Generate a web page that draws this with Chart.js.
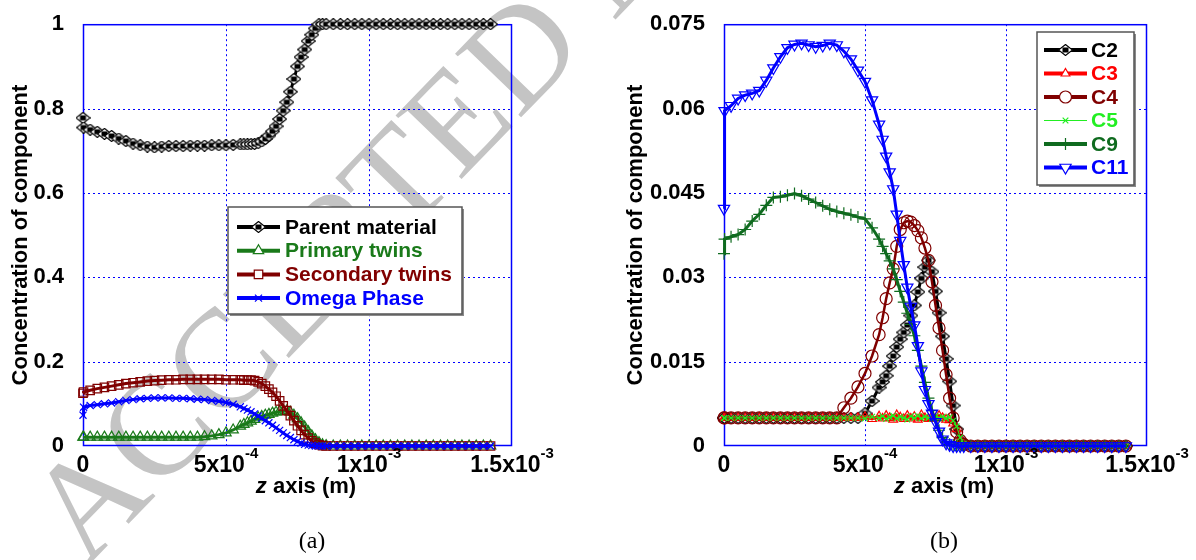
<!DOCTYPE html>
<html>
<head>
<meta charset="utf-8">
<script src="https://cdn.jsdelivr.net/npm/chart.js@4.4.1/dist/chart.umd.min.js"></script>
<style>
  body { margin: 0; background: #fff; }
  #wrap { position: relative; width: 1196px; height: 560px; overflow: hidden; }
  #wrap canvas { position: absolute; top: 0; }
</style>
</head>
<body>
<div id="wrap">
  <canvas id="mark" width="1196" height="560" style="left:0"></canvas>
  <canvas id="chartA" width="598" height="560" style="left:0"></canvas>
  <canvas id="chartB" width="598" height="560" style="left:598px"></canvas>
</div>
<script>
// z positions of the simulation mesh (m), shared by both panels
const zMesh = [0, 2e-6, 2.5e-5, 5e-5, 7.5e-5, 1e-4, 1.25e-4, 1.5e-4, 1.75e-4, 2e-4, 2.25e-4,
  2.5e-4, 2.75e-4, 3e-4, 3.25e-4, 3.5e-4, 3.75e-4, 4e-4, 4.25e-4, 4.5e-4, 4.75e-4,
  5e-4, 5.25e-4, 5.5e-4, 5.625e-4, 5.75e-4, 5.875e-4, 6e-4, 6.125e-4, 6.25e-4, 6.375e-4,
  6.5e-4, 6.625e-4, 6.75e-4, 6.875e-4, 7e-4, 7.125e-4, 7.25e-4, 7.375e-4, 7.5e-4, 7.625e-4,
  7.75e-4, 7.875e-4, 8e-4, 8.125e-4, 8.25e-4, 8.375e-4, 8.5e-4, 8.75e-4, 9e-4, 9.25e-4,
  9.5e-4, 9.75e-4, 1e-3, 1.025e-3, 1.05e-3, 1.075e-3, 1.1e-3, 1.125e-3, 1.15e-3, 1.175e-3,
  1.2e-3, 1.225e-3, 1.25e-3, 1.275e-3, 1.3e-3, 1.325e-3, 1.35e-3, 1.375e-3, 1.4e-3, 1.425e-3];

// panel (a)
const parentMaterial = [0.778, 0.755, 0.750, 0.745, 0.740, 0.735, 0.729, 0.723, 0.717, 0.713, 0.710,
  0.708, 0.710, 0.711, 0.711, 0.711, 0.712, 0.712, 0.712, 0.713, 0.713,
  0.713, 0.714, 0.715, 0.715, 0.715, 0.716, 0.716, 0.718, 0.722, 0.728,
  0.736, 0.746, 0.758, 0.775, 0.795, 0.815, 0.840, 0.870, 0.900, 0.922,
  0.940, 0.960, 0.975, 0.990, 1, 1, 1, 1, 1, 1,
  1, 1, 1, 1, 1, 1, 1, 1, 1, 1,
  1, 1, 1, 1, 1, 1, 1, 1, 1, 1];
const primaryTwins = [0.021, 0.021, 0.021, 0.021, 0.021, 0.021, 0.021, 0.021, 0.021, 0.021, 0.021,
  0.021, 0.021, 0.021, 0.021, 0.021, 0.021, 0.021, 0.022, 0.024, 0.027,
  0.031, 0.038, 0.047, 0.051, 0.055, 0.059, 0.063, 0.067, 0.070, 0.073,
  0.075, 0.078, 0.080, 0.082, 0.083, 0.083, 0.080, 0.073, 0.065, 0.055,
  0.045, 0.034, 0.024, 0.015, 0.008, 0.003, 0.001, 0, 0, 0,
  0, 0, 0, 0, 0, 0, 0, 0, 0, 0,
  0, 0, 0, 0, 0, 0, 0, 0, 0, 0];
const secondaryTwins = [0.125, 0.128, 0.132, 0.136, 0.139, 0.142, 0.145, 0.148, 0.150, 0.152, 0.154,
  0.155, 0.156, 0.157, 0.157, 0.158, 0.158, 0.158, 0.158, 0.158, 0.158,
  0.157, 0.157, 0.157, 0.156, 0.156, 0.156, 0.155, 0.152, 0.148, 0.142,
  0.135, 0.127, 0.118, 0.107, 0.095, 0.084, 0.072, 0.060, 0.048, 0.037,
  0.027, 0.019, 0.012, 0.007, 0.003, 0.001, 0, 0, 0, 0,
  0, 0, 0, 0, 0, 0, 0, 0, 0, 0,
  0, 0, 0, 0, 0, 0, 0, 0, 0, 0];
const omegaPhase = [0.073, 0.092, 0.096, 0.098, 0.100, 0.102, 0.105, 0.108, 0.110, 0.112, 0.113,
  0.114, 0.114, 0.114, 0.113, 0.113, 0.112, 0.111, 0.110, 0.108, 0.106,
  0.103, 0.099, 0.093, 0.089, 0.085, 0.081, 0.076, 0.071, 0.066, 0.060,
  0.055, 0.049, 0.043, 0.037, 0.031, 0.025, 0.020, 0.015, 0.011, 0.007,
  0.004, 0.002, 0.001, 0, 0, 0, 0, 0, 0, 0,
  0, 0, 0, 0, 0, 0, 0, 0, 0, 0,
  0, 0, 0, 0, 0, 0, 0, 0, 0, 0];

// panel (b)
const c2 = [0.005, 0.005, 0.005, 0.005, 0.005, 0.005, 0.005, 0.005, 0.005, 0.005, 0.005,
  0.005, 0.005, 0.005, 0.005, 0.005, 0.005, 0.005, 0.005, 0.005, 0.005,
  0.0058, 0.0080, 0.0104, 0.0114, 0.0125, 0.0142, 0.0160, 0.0176, 0.0190, 0.0202,
  0.0215, 0.0232, 0.0250, 0.0274, 0.0298, 0.0318, 0.0330, 0.0310, 0.0275, 0.0237,
  0.0195, 0.0155, 0.0115, 0.0072, 0.0030, 0.0010, 0.0003, 0, 0, 0,
  0, 0, 0, 0, 0, 0, 0, 0, 0, 0,
  0, 0, 0, 0, 0, 0, 0, 0, 0, 0];
const c3 = [0.005, 0.005, 0.005, 0.005, 0.005, 0.005, 0.005, 0.005, 0.005, 0.005, 0.005,
  0.005, 0.005, 0.005, 0.005, 0.005, 0.005, 0.005, 0.005, 0.005, 0.005,
  0.0052, 0.0048, 0.0053, 0.0049, 0.0054, 0.0050, 0.0047, 0.0055, 0.0051, 0.0048,
  0.0054, 0.0049, 0.0052, 0.0047, 0.0055, 0.0050, 0.0048, 0.0053, 0.0049, 0.0054,
  0.0050, 0.0047, 0.0046, 0.0040, 0.0030, 0.0012, 0.0003, 0, 0, 0,
  0, 0, 0, 0, 0, 0, 0, 0, 0, 0,
  0, 0, 0, 0, 0, 0, 0, 0, 0, 0];
const c4 = [0.005, 0.005, 0.005, 0.005, 0.005, 0.005, 0.005, 0.005, 0.005, 0.005, 0.005,
  0.005, 0.005, 0.005, 0.005, 0.005, 0.005, 0.005, 0.0068, 0.0085, 0.0105,
  0.0129, 0.0160, 0.0198, 0.0228, 0.0262, 0.0290, 0.0315, 0.0355, 0.0385, 0.0397,
  0.0400, 0.0398, 0.0392, 0.0383, 0.0370, 0.0352, 0.0330, 0.0292, 0.0250, 0.0210,
  0.0170, 0.0127, 0.0085, 0.0050, 0.0025, 0.0010, 0.0003, 0, 0, 0,
  0, 0, 0, 0, 0, 0, 0, 0, 0, 0,
  0, 0, 0, 0, 0, 0, 0, 0, 0, 0];
const c5 = [0.005, 0.005, 0.005, 0.005, 0.005, 0.005, 0.005, 0.005, 0.005, 0.005, 0.005,
  0.005, 0.005, 0.005, 0.005, 0.005, 0.005, 0.005, 0.005, 0.005, 0.005,
  0.0049, 0.0052, 0.0050, 0.0053, 0.0048, 0.0051, 0.0054, 0.0049, 0.0052, 0.0050,
  0.0047, 0.0053, 0.0050, 0.0054, 0.0049, 0.0052, 0.0050, 0.0048, 0.0053, 0.0050,
  0.0052, 0.0049, 0.0051, 0.0045, 0.0035, 0.0015, 0.0004, 0, 0, 0,
  0, 0, 0, 0, 0, 0, 0, 0, 0, 0,
  0, 0, 0, 0, 0, 0, 0, 0, 0, 0];
const c9 = [0.0342, 0.0368, 0.0372, 0.0376, 0.0385, 0.0400, 0.0412, 0.0428, 0.0442, 0.0443, 0.0446,
  0.0449, 0.0445, 0.0439, 0.0433, 0.0427, 0.0421, 0.0417, 0.0414, 0.0411, 0.0407,
  0.0404, 0.0388, 0.0368, 0.0355, 0.0342, 0.0329, 0.0315, 0.0296, 0.0275, 0.0256,
  0.0236, 0.0216, 0.0196, 0.0170, 0.0142, 0.0113, 0.0085, 0.0063, 0.0045, 0.0028,
  0.0015, 0.0007, 0.0003, 0.0001, 0, 0, 0, 0, 0, 0,
  0, 0, 0, 0, 0, 0, 0, 0, 0, 0,
  0, 0, 0, 0, 0, 0, 0, 0, 0, 0];
const c11 = [0.0422, 0.0596, 0.0605, 0.0618, 0.0624, 0.0627, 0.0632, 0.0650, 0.0672, 0.0692, 0.0708,
  0.0714, 0.0716, 0.0713, 0.0710, 0.0712, 0.0716, 0.0713, 0.0702, 0.0688, 0.0668,
  0.0648, 0.0615, 0.0572, 0.0545, 0.0515, 0.0487, 0.0457, 0.0412, 0.0365, 0.0322,
  0.0282, 0.0248, 0.0215, 0.0178, 0.0133, 0.0100, 0.0075, 0.0058, 0.0043, 0.0026,
  0.0012, 0.0005, 0.0002, 0, 0, 0, 0, 0, 0, 0,
  0, 0, 0, 0, 0, 0, 0, 0, 0, 0,
  0, 0, 0, 0, 0, 0, 0, 0, 0, 0];

// axes
const xTicks = [0, 5e-4, 1e-3, 1.5e-3];
const xTickMant = ['0', '5x10', '1x10', '1.5x10'];
const xTickExp = ['', '-4', '-3', '-3'];
const yTicksA = [0, 0.2, 0.4, 0.6, 0.8, 1];
const yLabelsA = ['0', '0.2', '0.4', '0.6', '0.8', '1'];
const yTicksB = [0, 0.015, 0.03, 0.045, 0.06, 0.075];
const yLabelsB = ['0', '0.015', '0.03', '0.045', '0.06', '0.075'];

const FONT = '"Liberation Sans", Arial, Helvetica, sans-serif';
const SERIF = '"Liberation Serif", "Times New Roman", serif';

// white diamond with a black core, like the matlab marker in the figure
function diamondMarker() {
  const c = document.createElement('canvas');
  c.width = 15; c.height = 12;
  const g = c.getContext('2d');
  g.beginPath();
  g.moveTo(7.5, 0.5); g.lineTo(14.5, 6); g.lineTo(7.5, 11.5); g.lineTo(0.5, 6);
  g.closePath();
  g.fillStyle = '#fff'; g.fill();
  g.strokeStyle = '#000'; g.lineWidth = 1.2; g.stroke();
  g.fillStyle = '#000'; g.fillRect(4.5, 3.5, 6, 5);
  return c;
}
const diamond = diamondMarker();

function series(label, ys, color, opts) {
  return Object.assign({
    label: label,
    data: zMesh.map((z, i) => ({ x: z, y: ys[i] })),
    borderColor: color,
    backgroundColor: 'rgba(0,0,0,0)',
    pointBorderColor: color,
    pointBackgroundColor: 'rgba(0,0,0,0)',
    borderWidth: 3,
    pointBorderWidth: 1.2,
    pointRadius: 5,
    tension: 0,
    clip: false
  }, opts);
}

function line(ctx, x0, y0, x1, y1) {
  ctx.beginPath(); ctx.moveTo(x0, y0); ctx.lineTo(x1, y1); ctx.stroke();
}

function decor(cfg) {
  return {
    id: 'decor',
    beforeDatasetsDraw(chart) {
      const ctx = chart.ctx, a = chart.chartArea;
      const x = chart.scales.x, y = chart.scales.y;
      ctx.save();
      ctx.strokeStyle = '#0000ff';
      ctx.lineWidth = 1;
      ctx.setLineDash([2, 3]);
      xTicks.slice(1, -1).forEach(v => {
        const px = Math.round(x.getPixelForValue(v)) + 0.5;
        line(ctx, px, a.top, px, a.bottom);
      });
      cfg.yTicks.slice(1, -1).forEach(v => {
        const py = Math.round(y.getPixelForValue(v)) + 0.5;
        line(ctx, a.left, py, a.right, py);
      });
      ctx.setLineDash([]);
      ctx.lineWidth = 1.5;
      ctx.strokeRect(a.left + 0.5, a.top + 0.5, a.right - a.left - 1, a.bottom - a.top - 1);
      ctx.restore();
    },
    afterDraw(chart) {
      const ctx = chart.ctx, a = chart.chartArea, x = chart.scales.x;
      ctx.save();
      ctx.fillStyle = '#000';
      ctx.textAlign = 'left';
      ctx.textBaseline = 'alphabetic';

      // x tick labels with raised exponent
      xTicks.forEach((v, i) => {
        const px = x.getPixelForValue(v);
        ctx.font = 'bold 23px ' + FONT;
        const w1 = ctx.measureText(xTickMant[i]).width;
        ctx.font = 'bold 15px ' + FONT;
        const w2 = xTickExp[i] ? ctx.measureText(xTickExp[i]).width : 0;
        const start = px - (w1 + w2) / 2;
        ctx.font = 'bold 23px ' + FONT;
        ctx.fillText(xTickMant[i], start, 472);
        if (xTickExp[i]) {
          ctx.font = 'bold 15px ' + FONT;
          ctx.fillText(xTickExp[i], start + w1, 458);
        }
      });

      // x title, z in italics
      ctx.font = 'italic bold 22px ' + FONT;
      const wz = ctx.measureText('z').width;
      ctx.font = 'bold 22px ' + FONT;
      const wr = ctx.measureText(' axis (m)').width;
      const sx = cfg.xTitleX - (wz + wr) / 2;
      ctx.font = 'italic bold 22px ' + FONT;
      ctx.fillText('z', sx, 493);
      ctx.font = 'bold 22px ' + FONT;
      ctx.fillText(' axis (m)', sx + wz, 493);

      // y title
      ctx.save();
      ctx.translate(cfg.yTitleX, (a.top + a.bottom) / 2);
      ctx.rotate(-Math.PI / 2);
      ctx.textAlign = 'center';
      ctx.textBaseline = 'middle';
      ctx.font = 'bold 22px ' + FONT;
      ctx.fillText('Concentration of component', 0, 0);
      ctx.restore();

      // panel tag
      ctx.textAlign = 'center';
      ctx.textBaseline = 'middle';
      ctx.font = '24px ' + SERIF;
      ctx.fillText(cfg.tag, cfg.tagX, 542);

      // legend box
      const L = cfg.legend;
      ctx.fillStyle = '#8a8a8a';
      ctx.fillRect(L.x + 2, L.y + 2, L.w, L.h);
      ctx.fillStyle = '#fff';
      ctx.fillRect(L.x, L.y, L.w, L.h);
      ctx.strokeStyle = '#555';
      ctx.lineWidth = 1.5;
      ctx.strokeRect(L.x, L.y, L.w, L.h);
      chart.data.datasets.forEach((ds, i) => {
        const yy = L.y0 + i * L.step;
        ctx.strokeStyle = ds.borderColor;
        ctx.lineWidth = Math.max(ds.borderWidth, ds.borderWidth > 1 ? 4 : 1);
        line(ctx, L.lx0, yy, L.lx1, yy);
        if (Chart.helpers && Chart.helpers.drawPoint) {
          ctx.strokeStyle = ds.pointBorderColor;
          ctx.fillStyle = '#fff';
          ctx.lineWidth = ds.pointBorderWidth;
          Chart.helpers.drawPoint(ctx, {
            pointStyle: ds.pointStyle || 'circle',
            rotation: ds.pointRotation || 0,
            radius: ds.pointRadius,
            borderWidth: ds.pointBorderWidth
          }, (L.lx0 + L.lx1) / 2, yy);
        }
        ctx.fillStyle = ds.borderColor;
        ctx.textAlign = 'left';
        ctx.textBaseline = 'middle';
        ctx.font = 'bold 21px ' + FONT;
        ctx.fillText(ds.label, L.tx, yy + 1);
      });
      ctx.restore();
    }
  };
}

function panelOptions(yMax, yTicks, yLabels, leftW, rightPad) {
  return {
    responsive: false,
    animation: false,
    events: [],
    layout: { padding: { left: 0, right: rightPad, top: 23, bottom: 0 } },
    plugins: { legend: { display: false }, tooltip: { enabled: false } },
    scales: {
      x: {
        type: 'linear', min: 0, max: 1.5e-3,
        grid: { display: false }, border: { display: false },
        ticks: { display: false },
        afterBuildTicks: s => { s.ticks = xTicks.map(v => ({ value: v })); },
        afterFit: s => { s.height = 114; }
      },
      y: {
        type: 'linear', min: 0, max: yMax,
        grid: { display: false }, border: { display: false },
        ticks: {
          color: '#000', padding: 11,
          font: { family: FONT, size: 22, weight: 'bold' },
          callback: (v, i) => yLabels[i]
        },
        afterBuildTicks: s => { s.ticks = yTicks.map(v => ({ value: v })); },
        afterFit: s => { s.width = leftW; }
      }
    }
  };
}

new Chart(document.getElementById('chartA'), {
  type: 'line',
  data: {
    datasets: [
      series('Parent material', parentMaterial, '#000000', { pointStyle: diamond, pointRadius: 7, order: 3 }),
      series('Primary twins', primaryTwins, '#1a7a1a', { pointStyle: 'triangle', pointRadius: 6, order: 2 }),
      series('Secondary twins', secondaryTwins, '#800000', { pointStyle: 'rect', pointRadius: 6, order: 1 }),
      series('Omega Phase', omegaPhase, '#0000ff', { pointStyle: 'crossRot', pointRadius: 5, order: 0 })
    ]
  },
  options: panelOptions(1, yTicksA, yLabelsA, 83, 86),
  plugins: [decor({
    yTicks: yTicksA, xTitleX: 306, yTitleX: 21, tag: '(a)', tagX: 312,
    legend: { x: 228, y: 207, w: 234, h: 107, y0: 227, step: 23.7, lx0: 237, lx1: 280, tx: 285 }
  })]
});

new Chart(document.getElementById('chartB'), {
  type: 'line',
  data: {
    datasets: [
      series('C2', c2, '#000000', { pointStyle: diamond, pointRadius: 7, order: 5 }),
      series('C3', c3, '#ff0000', { pointStyle: 'triangle', pointRadius: 5, order: 4 }),
      series('C4', c4, '#800000', { pointStyle: 'circle', pointRadius: 6, borderWidth: 2.5, order: 3 }),
      series('C5', c5, '#22ee22', { pointStyle: 'crossRot', pointRadius: 4, borderWidth: 1, order: 2 }),
      series('C9', c9, '#0f6b1f', { pointStyle: 'cross', pointRadius: 6, order: 1 }),
      series('C11', c11, '#0000ff', { pointStyle: 'triangle', pointRotation: 180, pointRadius: 6.5, order: 0 })
    ]
  },
  options: panelOptions(0.075, yTicksB, yLabelsB, 126, 49),
  plugins: [decor({
    yTicks: yTicksB, xTitleX: 346, yTitleX: 38, tag: '(b)', tagX: 346,
    legend: { x: 439, y: 32, w: 97, h: 153, y0: 50, step: 23.5, lx0: 446, lx1: 489, tx: 493 }
  })]
});

// faint "accepted manuscript" stamp behind both panels
(function () {
  const ctx = document.getElementById('mark').getContext('2d');
  ctx.save();
  ctx.translate(86, 568);
  ctx.rotate(-46 * Math.PI / 180);
  ctx.fillStyle = '#c4c4c4';
  ctx.font = '140px ' + SERIF;
  ctx.textBaseline = 'alphabetic';
  ctx.fillText('ACCEPTED MANUSCRIPT', 0, 0);
  ctx.restore();
})();
</script>
</body>
</html>
